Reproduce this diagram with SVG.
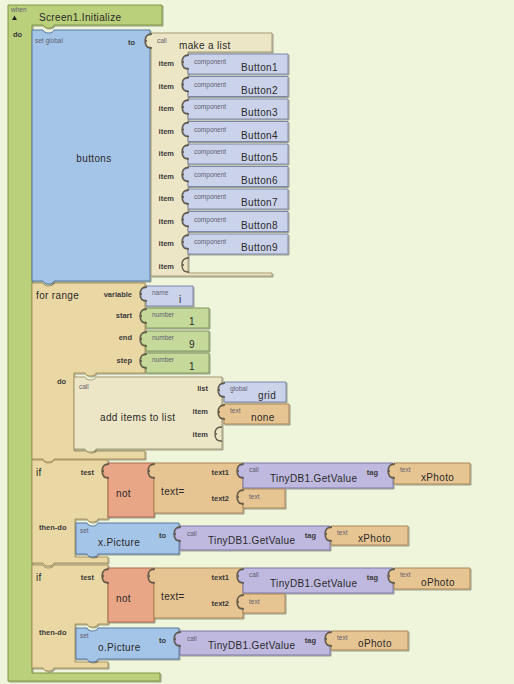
<svg xmlns="http://www.w3.org/2000/svg" width="514" height="684" viewBox="0 0 514 684">
  <defs>
    <filter id="bev" x="-10%" y="-10%" width="125%" height="125%">
      <feDropShadow dx="1" dy="1" stdDeviation="0.3" flood-color="#000" flood-opacity="0.35"/>
    </filter>
    <!-- reusable value block outlines (plug tab on the left) -->
    <path id="cmpShape" d="M0,0 H100 V20 H0 V14 C-4,14 -5,12 -5,8 C-5,4 -4,2 0,2 Z"/>
    <path id="numShape" d="M0,0 H63 V20 H0 V14 C-4,14 -5,12 -5,8 C-5,4 -4,2 0,2 Z"/>
    <path id="dbShape" d="M0,0 H150 V25 H0 V14 C-4,14 -5,12 -5,8 C-5,4 -4,2 0,2 Z"/>
    <path id="notShape" d="M0,0 H46 V54 H0 V14 C-4,14 -5,12 -5,8 C-5,4 -4,2 0,2 Z"/>
    <path id="eqShape" d="M0,0 H89 V50 H0 V14 C-4,14 -5,12 -5,8 C-5,4 -4,2 0,2 Z"/>
    <path id="tagShape" d="M0,0 H76 V21 H0 V14 C-4,14 -5,12 -5,8 C-5,4 -4,2 0,2 Z"/>
    <path id="emptyTxtShape" d="M0,0 H42 V19 H0 V14 C-4,14 -5,12 -5,8 C-5,4 -4,2 0,2 Z"/>
    <path id="ifShape" d="M0,0 H11 C12,4 21,4 22,0 H76 V59 H66 C65,63 56,63 55,59 H43 V97 H76 V103 H22 C21,107 12,107 11,103 H0 Z"/>
    <path id="setShape" d="M0,0 H11 C12,4 21,4 22,0 H103 V31 H22 C21,35 12,35 11,31 H0 Z"/>
    <path id="db2Shape" d="M0,0 H150 V24 H0 V14 C-4,14 -5,12 -5,8 C-5,4 -4,2 0,2 Z"/>
    <path id="tag2Shape" d="M0,0 H77 V19 H0 V14 C-4,14 -5,12 -5,8 C-5,4 -4,2 0,2 Z"/>
    <!-- dark rim of the socket a plug sits in -->
    <path id="tabEdge" d="M1,15 H0 C-4,15 -6,12.5 -6,8 C-6,3.5 -4,1 0,1 H1 M-6,8 H-4"/>
  </defs>
  <style>
    .blk { stroke-width: 1; filter: url(#bev); }
    .ev  { fill: #BBD07A; stroke: #7F9443; }
    .setg{ fill: #A5C5E8; stroke: #5878A0; }
    .lst { fill: #EDE6C6; stroke: #A49A74; }
    .cmp { fill: #CBD3EB; stroke: #7C86A8; }
    .ctl { fill: #EAD8A4; stroke: #A8925A; }
    .num { fill: #C5D99B; stroke: #7F965A; }
    .txt { fill: #E7C592; stroke: #A8895A; }
    .not { fill: #E9A686; stroke: #A86A50; }
    .db  { fill: #BFB9E0; stroke: #7C76A8; }
    .sock{ fill: none; stroke: #5d5748; stroke-width: 1.3; }
    text { font-family: "Liberation Sans", Arial, sans-serif; }
    .lbl { font-size: 10px; fill: #2a2a2a; letter-spacing: 0.35px; }
    .sm  { font-size: 7.5px; font-weight: bold; fill: #3a3a3a; }
    .tiny{ font-size: 6.5px; fill: #5f6070; }
    .end { text-anchor: end; }
  </style>

  <rect width="514" height="684" fill="#EEF5DB"/>

  <!-- event block -->
  <g id="screen1-initialize">
    <path class="blk ev" d="M8,5 H162 V25 H54 C53,29 44,29 43,25 H32 V673 H160 V681 H8 Z"/>
    <text class="tiny" x="11" y="12">when</text>
    <polygon points="12,20 17,20 14.5,15.5" fill="#222"/>
    <text class="sm" x="13" y="37">do</text>
    <text class="lbl" x="39" y="21">Screen1.Initialize</text>
  </g>

  <!-- for range loop -->
  <g id="for-range" transform="translate(32,283)">
    <path class="blk ctl" d="M0,0 H11 C12,4 21,4 22,0 H113 V90 H64 C63,94 54,94 53,90 H42 V168 H113 V176 H22 C21,180 12,180 11,176 H0 Z"/>
    <text class="lbl" x="4" y="16">for range</text>
    <text class="sm end" x="100" y="14">variable</text>
    <text class="sm end" x="100" y="35">start</text>
    <text class="sm end" x="100" y="57">end</text>
    <text class="sm end" x="100" y="80">step</text>
    <text class="sm" x="25" y="101">do</text>
  </g>

  <!-- set global buttons -->
  <g id="set-global-buttons" transform="translate(32,30)">
    <path class="blk setg" d="M0,0 H11 C12,4 21,4 22,0 H118 V251 H22 C21,255 12,255 11,251 H0 Z"/>
    <text class="tiny" x="3" y="13">set global</text>
    <text class="sm" x="96" y="15">to</text>
    <text class="lbl" x="62" y="132" text-anchor="middle">buttons</text>
  </g>

  <!-- make a list -->
  <g id="make-a-list" transform="translate(151,33)">
    <path class="blk lst" d="M0,0 H121 V19 H37 V240 H121 V243 H0 V14 C-4,14 -5,12 -5,8 C-5,4 -4,2 0,2 Z"/>
    <use href="#tabEdge" class="sock"/>
    <text class="tiny" x="6" y="10">call</text>
    <text class="lbl" x="28" y="16">make a list</text>
    <text class="sm end" x="23" y="33">item</text>
    <text class="sm end" x="23" y="55.5">item</text>
    <text class="sm end" x="23" y="78">item</text>
    <text class="sm end" x="23" y="100.5">item</text>
    <text class="sm end" x="23" y="123">item</text>
    <text class="sm end" x="23" y="145.5">item</text>
    <text class="sm end" x="23" y="168">item</text>
    <text class="sm end" x="23" y="190.5">item</text>
    <text class="sm end" x="23" y="213">item</text>
    <text class="sm end" x="23" y="235.5">item</text>
  </g>

  <!-- component blocks -->
  <g id="button1" transform="translate(188,54)"><use href="#cmpShape" class="blk cmp"/><use href="#tabEdge" class="sock"/><text class="tiny" x="6" y="10">component</text><text class="lbl" x="53" y="17">Button1</text></g>
  <g id="button2" transform="translate(188,76.5)"><use href="#cmpShape" class="blk cmp"/><use href="#tabEdge" class="sock"/><text class="tiny" x="6" y="10">component</text><text class="lbl" x="53" y="17">Button2</text></g>
  <g id="button3" transform="translate(188,99)"><use href="#cmpShape" class="blk cmp"/><use href="#tabEdge" class="sock"/><text class="tiny" x="6" y="10">component</text><text class="lbl" x="53" y="17">Button3</text></g>
  <g id="button4" transform="translate(188,121.5)"><use href="#cmpShape" class="blk cmp"/><use href="#tabEdge" class="sock"/><text class="tiny" x="6" y="10">component</text><text class="lbl" x="53" y="17">Button4</text></g>
  <g id="button5" transform="translate(188,144)"><use href="#cmpShape" class="blk cmp"/><use href="#tabEdge" class="sock"/><text class="tiny" x="6" y="10">component</text><text class="lbl" x="53" y="17">Button5</text></g>
  <g id="button6" transform="translate(188,166.5)"><use href="#cmpShape" class="blk cmp"/><use href="#tabEdge" class="sock"/><text class="tiny" x="6" y="10">component</text><text class="lbl" x="53" y="17">Button6</text></g>
  <g id="button7" transform="translate(188,189)"><use href="#cmpShape" class="blk cmp"/><use href="#tabEdge" class="sock"/><text class="tiny" x="6" y="10">component</text><text class="lbl" x="53" y="17">Button7</text></g>
  <g id="button8" transform="translate(188,211.5)"><use href="#cmpShape" class="blk cmp"/><use href="#tabEdge" class="sock"/><text class="tiny" x="6" y="10">component</text><text class="lbl" x="53" y="17">Button8</text></g>
  <g id="button9" transform="translate(188,234)"><use href="#cmpShape" class="blk cmp"/><use href="#tabEdge" class="sock"/><text class="tiny" x="6" y="10">component</text><text class="lbl" x="53" y="17">Button9</text></g>

  <!-- loop inputs -->
  <g id="name-i" transform="translate(146,286)">
    <path class="blk cmp" d="M0,0 H47 V20 H0 V14 C-4,14 -5,12 -5,8 C-5,4 -4,2 0,2 Z"/>
    <use href="#tabEdge" class="sock"/>
    <text class="tiny" x="6" y="9">name</text>
    <text class="lbl" x="33" y="17">i</text>
  </g>
  <g id="start-1" transform="translate(146,308)"><use href="#numShape" class="blk num"/><use href="#tabEdge" class="sock"/><text class="tiny" x="6" y="9">number</text><text class="lbl" x="43" y="17">1</text></g>
  <g id="end-9" transform="translate(146,331)"><use href="#numShape" class="blk num"/><use href="#tabEdge" class="sock"/><text class="tiny" x="6" y="9">number</text><text class="lbl" x="43" y="17">9</text></g>
  <g id="step-1" transform="translate(146,353)"><use href="#numShape" class="blk num"/><use href="#tabEdge" class="sock"/><text class="tiny" x="6" y="9">number</text><text class="lbl" x="43" y="17">1</text></g>

  <!-- add items to list -->
  <g id="add-items-to-list" transform="translate(74,377)">
    <path class="blk lst" d="M0,0 H11 C12,4 21,4 22,0 H148 V72 H22 C21,76 12,76 11,72 H0 Z"/>
    <text class="tiny" x="5" y="12">call</text>
    <text class="lbl" x="26" y="44">add items to list</text>
    <text class="sm end" x="134" y="14">list</text>
    <text class="sm end" x="134" y="37">item</text>
    <text class="sm end" x="134" y="60">item</text>
  </g>
  <g id="global-grid" transform="translate(224,382)">
    <path class="blk cmp" d="M0,0 H62 V20 H0 V14 C-4,14 -5,12 -5,8 C-5,4 -4,2 0,2 Z"/>
    <use href="#tabEdge" class="sock"/>
    <text class="tiny" x="6" y="9">global</text>
    <text class="lbl" x="34" y="17">grid</text>
  </g>
  <g id="text-none" transform="translate(224,404)">
    <path class="blk txt" d="M0,0 H65 V20 H0 V14 C-4,14 -5,12 -5,8 C-5,4 -4,2 0,2 Z"/>
    <use href="#tabEdge" class="sock"/>
    <text class="tiny" x="6" y="9">text</text>
    <text class="lbl" x="27" y="17">none</text>
  </g>

  <!-- first if: xPhoto -->
  <g id="if-x" transform="translate(32,460)">
    <use href="#ifShape" class="blk ctl"/>
    <text class="lbl" x="4" y="16">if</text>
    <text class="sm end" x="62" y="15">test</text>
    <text class="sm" x="7" y="70">then-do</text>
  </g>
  <g id="not-x" transform="translate(108,463)"><use href="#notShape" class="blk not"/><use href="#tabEdge" class="sock"/><text class="lbl" x="8" y="34">not</text></g>
  <g id="text-eq-x" transform="translate(154,463)">
    <use href="#eqShape" class="blk txt"/>
    <use href="#tabEdge" class="sock"/>
    <text class="lbl" x="7" y="32">text=</text>
    <text class="sm end" x="75" y="12">text1</text>
    <text class="sm end" x="75" y="38">text2</text>
  </g>
  <g id="getvalue-x-test" transform="translate(243,463)">
    <use href="#dbShape" class="blk db"/>
    <use href="#tabEdge" class="sock"/>
    <text class="tiny" x="6" y="9">call</text>
    <text class="lbl" x="27" y="19">TinyDB1.GetValue</text>
    <text class="sm end" x="135" y="12">tag</text>
  </g>
  <g id="tag-xphoto-test" transform="translate(394,463)"><use href="#tagShape" class="blk txt"/><use href="#tabEdge" class="sock"/><text class="tiny" x="6" y="9">text</text><text class="lbl" x="27" y="18">xPhoto</text></g>
  <g id="empty-text-x" transform="translate(243,489)"><use href="#emptyTxtShape" class="blk txt"/><use href="#tabEdge" class="sock"/><text class="tiny" x="6" y="10">text</text></g>
  <g id="set-x-picture" transform="translate(76,523)">
    <use href="#setShape" class="blk setg"/>
    <text class="tiny" x="4" y="10">set</text>
    <text class="lbl" x="22" y="23">x.Picture</text>
    <text class="sm end" x="90" y="15">to</text>
  </g>
  <g id="getvalue-x-set" transform="translate(180,526)">
    <use href="#db2Shape" class="blk db"/>
    <use href="#tabEdge" class="sock"/>
    <text class="tiny" x="7" y="10">call</text>
    <text class="lbl" x="28" y="18">TinyDB1.GetValue</text>
    <text class="sm end" x="136" y="12">tag</text>
  </g>
  <g id="tag-xphoto-set" transform="translate(331,526)"><use href="#tag2Shape" class="blk txt"/><use href="#tabEdge" class="sock"/><text class="tiny" x="6" y="9">text</text><text class="lbl" x="27" y="16">xPhoto</text></g>

  <!-- second if: oPhoto -->
  <g id="if-o" transform="translate(32,565)">
    <use href="#ifShape" class="blk ctl"/>
    <text class="lbl" x="4" y="16">if</text>
    <text class="sm end" x="62" y="15">test</text>
    <text class="sm" x="7" y="70">then-do</text>
  </g>
  <g id="not-o" transform="translate(108,568)"><use href="#notShape" class="blk not"/><use href="#tabEdge" class="sock"/><text class="lbl" x="8" y="34">not</text></g>
  <g id="text-eq-o" transform="translate(154,568)">
    <use href="#eqShape" class="blk txt"/>
    <use href="#tabEdge" class="sock"/>
    <text class="lbl" x="7" y="32">text=</text>
    <text class="sm end" x="75" y="12">text1</text>
    <text class="sm end" x="75" y="38">text2</text>
  </g>
  <g id="getvalue-o-test" transform="translate(243,568)">
    <use href="#dbShape" class="blk db"/>
    <use href="#tabEdge" class="sock"/>
    <text class="tiny" x="6" y="9">call</text>
    <text class="lbl" x="27" y="19">TinyDB1.GetValue</text>
    <text class="sm end" x="135" y="12">tag</text>
  </g>
  <g id="tag-ophoto-test" transform="translate(394,568)"><use href="#tagShape" class="blk txt"/><use href="#tabEdge" class="sock"/><text class="tiny" x="6" y="9">text</text><text class="lbl" x="27" y="18">oPhoto</text></g>
  <g id="empty-text-o" transform="translate(243,594)"><use href="#emptyTxtShape" class="blk txt"/><use href="#tabEdge" class="sock"/><text class="tiny" x="6" y="10">text</text></g>
  <g id="set-o-picture" transform="translate(76,628)">
    <use href="#setShape" class="blk setg"/>
    <text class="tiny" x="4" y="10">set</text>
    <text class="lbl" x="22" y="23">o.Picture</text>
    <text class="sm end" x="90" y="15">to</text>
  </g>
  <g id="getvalue-o-set" transform="translate(180,631)">
    <use href="#db2Shape" class="blk db"/>
    <use href="#tabEdge" class="sock"/>
    <text class="tiny" x="7" y="10">call</text>
    <text class="lbl" x="28" y="18">TinyDB1.GetValue</text>
    <text class="sm end" x="136" y="12">tag</text>
  </g>
  <g id="tag-ophoto-set" transform="translate(331,631)"><use href="#tag2Shape" class="blk txt"/><use href="#tabEdge" class="sock"/><text class="tiny" x="6" y="9">text</text><text class="lbl" x="27" y="16">oPhoto</text></g>

  <!-- open input sockets -->
  <g id="connectors">
    <path class="sock" d="M189,258 H188 C184,258 182,260.5 182,265 C182,269.5 184,272 188,272 H189 M182,265 H184"/>
    <path class="sock" d="M222,427 H221 C217,427 215,429.5 215,434 C215,438.5 217,441 221,441 H222 M215,434 H217"/>
  </g>
</svg>
